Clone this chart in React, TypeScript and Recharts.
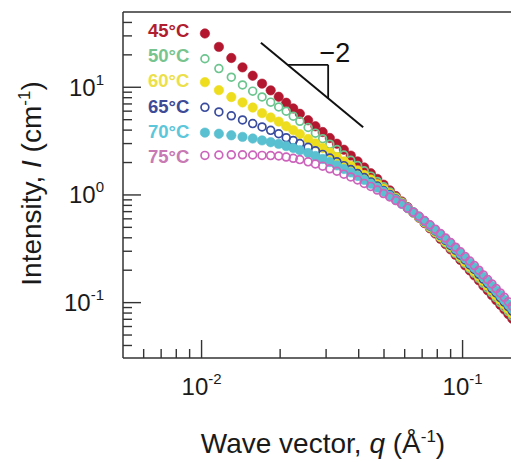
import { Legend, ReferenceDot, ReferenceLine, Scatter, ScatterChart, XAxis, YAxis } from "recharts";

// wave vector q (1/Å), shared by all temperatures
const Q = [
  0.0103, 0.01165, 0.013, 0.01435, 0.0157, 0.01705, 0.0184, 0.01975, 0.0211, 0.02245, 0.0238,
  0.0256, 0.0273, 0.0291, 0.031, 0.033, 0.0351, 0.0373, 0.0396, 0.042, 0.0445, 0.0471, 0.0498,
  0.0526, 0.0555, 0.0585, 0.0616, 0.0648, 0.0681, 0.0715, 0.075, 0.0786, 0.0823, 0.0861, 0.09,
  0.094, 0.0981, 0.1023, 0.1066, 0.111, 0.1155, 0.1201, 0.1248, 0.1296, 0.1345, 0.1395, 0.1446,
  0.1498, 0.1551,
];

// intensity I (1/cm)
const I_45C = [
  31.6, 23.7, 18.7, 15.3, 12.8, 10.8, 9.36, 8.16, 7.18, 6.36, 5.67,
  4.94, 4.34, 3.84, 3.38, 2.99, 2.63, 2.32, 2.05, 1.8, 1.59, 1.41, 1.246,
  1.103, 0.977, 0.869, 0.77, 0.685, 0.614, 0.548, 0.49, 0.438, 0.391, 0.349, 0.312,
  0.278, 0.249, 0.222, 0.199, 0.179, 0.161, 0.144, 0.13, 0.117, 0.1055, 0.0954, 0.0863,
  0.0782, 0.0709,
];
const I_50C = [
  18.4, 14.9, 12.4, 10.5, 9.2, 8.13, 7.27, 6.56, 5.99, 5.39, 4.83,
  4.23, 3.75, 3.33, 2.96, 2.64, 2.35, 2.1, 1.875, 1.674, 1.495, 1.335, 1.192,
  1.066, 0.954, 0.855, 0.764, 0.686, 0.618, 0.554, 0.497, 0.447, 0.401, 0.358, 0.321,
  0.287, 0.257, 0.231, 0.207, 0.187, 0.168, 0.151, 0.136, 0.123, 0.111, 0.1, 0.0908,
  0.0825, 0.0748,
];
const I_60C = [
  11.15, 9.4, 8.11, 7.23, 6.48, 5.75, 5.24, 4.8, 4.34, 4.0, 3.67,
  3.31, 3.01, 2.73, 2.48, 2.25, 2.05, 1.86, 1.69, 1.53, 1.39, 1.26, 1.14,
  1.03, 0.932, 0.843, 0.754, 0.688, 0.622, 0.56, 0.505, 0.455, 0.409, 0.368, 0.331,
  0.296, 0.267, 0.239, 0.215, 0.194, 0.175, 0.158, 0.143, 0.129, 0.116, 0.106, 0.0956,
  0.0868, 0.0788,
];
const I_65C = [
  6.51, 5.9, 5.43, 4.97, 4.6, 4.28, 3.98, 3.7, 3.4, 3.2, 3.0,
  2.77, 2.57, 2.38, 2.2, 2.03, 1.87, 1.72, 1.58, 1.45, 1.32, 1.21, 1.1,
  1.01, 0.916, 0.834, 0.754, 0.689, 0.626, 0.566, 0.512, 0.463, 0.419, 0.378, 0.34,
  0.307, 0.276, 0.249, 0.224, 0.203, 0.183, 0.165, 0.15, 0.135, 0.123, 0.111, 0.101,
  0.0916, 0.0832,
];
const I_70C = [
  3.79, 3.7, 3.58, 3.46, 3.34, 3.21, 3.09, 2.98, 2.84, 2.73, 2.6,
  2.45, 2.3, 2.16, 2.02, 1.88, 1.74, 1.62, 1.5, 1.38, 1.27, 1.17, 1.07,
  0.983, 0.901, 0.827, 0.754, 0.691, 0.63, 0.572, 0.52, 0.472, 0.428, 0.388, 0.351,
  0.317, 0.286, 0.258, 0.233, 0.211, 0.192, 0.173, 0.157, 0.142, 0.129, 0.117, 0.106,
  0.0964, 0.0878,
];
const I_75C = [
  2.33, 2.35, 2.36, 2.36, 2.35, 2.33, 2.32, 2.3, 2.25, 2.19, 2.13,
  2.03, 1.94, 1.85, 1.75, 1.66, 1.56, 1.47, 1.38, 1.28, 1.2, 1.11, 1.03,
  0.958, 0.887, 0.822, 0.754, 0.692, 0.634, 0.578, 0.528, 0.481, 0.438, 0.398, 0.361,
  0.327, 0.296, 0.268, 0.243, 0.221, 0.2, 0.181, 0.164, 0.149, 0.135, 0.123, 0.112,
  0.102, 0.0926,
];

const X_TICKS = [0.006, 0.007, 0.008, 0.009, 0.01, 0.02, 0.03, 0.04, 0.05, 0.06, 0.07, 0.08, 0.09, 0.1];
const Y_TICKS = [
  0.04, 0.05, 0.06, 0.07, 0.08, 0.09, 0.1, 0.2, 0.3, 0.4, 0.5, 0.6, 0.7, 0.8, 0.9,
  1, 2, 3, 4, 5, 6, 7, 8, 9, 10, 20, 30, 40,
];

// the "-2" slope guide (points in data units)
const SLOPE_LINE = [{ x: 0.01688, y: 25.9 }, { x: 0.0416, y: 4.25 }];
const SLOPE_RUN = [{ x: 0.02137, y: 16.16 }, { x: 0.03055, y: 16.16 }];
const SLOPE_RISE = [{ x: 0.03055, y: 16.16 }, { x: 0.03055, y: 7.91 }];

const SERIES = [
  { name: "45°C", values: I_45C, color: "#b3172f", text: "#b01e30", filled: true },
  { name: "50°C", values: I_50C, color: "#6cc58e", text: "#78c48f", filled: false },
  { name: "60°C", values: I_60C, color: "#eddd1e", text: "#ece04a", filled: true },
  { name: "65°C", values: I_65C, color: "#3a4c9e", text: "#3d4c97", filled: false },
  { name: "70°C", values: I_70C, color: "#58c0d0", text: "#5cc6da", filled: true },
  { name: "75°C", values: I_75C, color: "#cc64bc", text: "#c77ab3", filled: false },
];

const FONT = "'Liberation Sans', Arial, Helvetica, sans-serif";
const INK = "#1a1a1a";
const AXIS = "#333";

const exponentOf = (v: number) => Math.round(Math.log10(v));
const isDecade = (v: number) => Math.abs(Math.log10(v) - exponentOf(v)) < 1e-9;

const XTick = ({ x, y, payload }: any) => {
  const v = payload.value;
  const major = isDecade(v);
  return (
    <g>
      <line x1={x} y1={y} x2={x} y2={y - (major ? 18 : 9)} stroke={AXIS} strokeWidth={1.4} />
      {major && (
        <text x={x} y={y + 37} textAnchor="middle" fontFamily={FONT} fontSize={24} fill={INK}>
          10<tspan dy={-11} fontSize={15}>{exponentOf(v)}</tspan>
        </text>
      )}
    </g>
  );
};

const YTick = ({ x, y, payload }: any) => {
  const v = payload.value;
  const major = isDecade(v);
  return (
    <g>
      <line x1={x} y1={y} x2={x + (major ? 18 : 9)} y2={y} stroke={AXIS} strokeWidth={1.4} />
      {major && (
        <text x={x - 19} y={y + 8.5} textAnchor="end" fontFamily={FONT} fontSize={24} fill={INK}>
          10<tspan dy={-11} fontSize={15}>{exponentOf(v)}</tspan>
        </text>
      )}
    </g>
  );
};

const XTitle = ({ viewBox }: any) => {
  const vb = viewBox ?? { x: 123, y: 358, width: 388, height: 104 };
  return (
    <text x={vb.x + vb.width / 2 + 6} y={vb.y + 95} textAnchor="middle" fontFamily={FONT} fontSize={28} fill={INK}>
      {"Wave vector, "}
      <tspan fontStyle="italic">q</tspan>
      {" (Å"}
      <tspan dy={-11} fontSize={17}>-1</tspan>
      <tspan dy={11}>)</tspan>
    </text>
  );
};

const YTitle = ({ viewBox }: any) => {
  const vb = viewBox ?? { x: 0, y: 12, width: 123, height: 346 };
  const cx = vb.x + 41;
  const cy = vb.y + vb.height / 2 - 1.5;
  return (
    <text
      x={cx}
      y={cy}
      transform={`rotate(-90, ${cx}, ${cy})`}
      textAnchor="middle"
      fontFamily={FONT}
      fontSize={28}
      fill={INK}
    >
      {"Intensity, "}
      <tspan fontStyle="italic">I</tspan>
      {" (cm"}
      <tspan dy={-11} fontSize={17}>-1</tspan>
      <tspan dy={11}>)</tspan>
    </text>
  );
};

const TemperatureLegend = () => (
  <div style={{ fontFamily: FONT, fontWeight: 700, fontSize: 18.5 }}>
    {SERIES.map((s) => (
      <div key={s.name} style={{ color: s.text, height: 25.2, lineHeight: "25.2px", whiteSpace: "nowrap" }}>
        {s.name}
      </div>
    ))}
  </div>
);

const markerFor = (color: string, filled: boolean) => (p: any) =>
  filled ? (
    <circle cx={p.cx} cy={p.cy} r={4.7} fill={color} stroke={color} strokeWidth={0.6} />
  ) : (
    <circle cx={p.cx} cy={p.cy} r={3.9} fill="none" stroke={color} strokeWidth={1.7} />
  );

export default function App() {
  return (
    <div style={{ position: "absolute", left: 0, top: 0, width: 511, height: 462, overflow: "hidden", background: "#fff" }}>
      <ScatterChart width={511} height={462} margin={{ top: 12, right: 0, bottom: 0, left: 0 }}>
        <XAxis
          type="number"
          dataKey="q"
          scale="log"
          domain={[0.005, 0.1533]}
          allowDataOverflow
          ticks={X_TICKS}
          interval={0}
          tickSize={0}
          tickMargin={0}
          tickLine={false}
          tick={XTick}
          axisLine={{ stroke: AXIS, strokeWidth: 1.5 }}
          height={104}
          label={<XTitle />}
        />
        <YAxis
          type="number"
          dataKey="I"
          scale="log"
          domain={[0.0306, 50]}
          allowDataOverflow
          ticks={Y_TICKS}
          interval={0}
          tickSize={0}
          tickMargin={0}
          tickLine={false}
          tick={YTick}
          axisLine={{ stroke: AXIS, strokeWidth: 1.5 }}
          width={123}
          label={<YTitle />}
        />
        <ReferenceLine y={50} stroke={AXIS} strokeWidth={1.5} ifOverflow="visible" />
        <ReferenceLine segment={SLOPE_LINE} stroke="#111" strokeWidth={2} ifOverflow="visible" />
        <ReferenceLine segment={SLOPE_RUN} stroke="#111" strokeWidth={1.8} ifOverflow="visible" />
        <ReferenceLine segment={SLOPE_RISE} stroke="#111" strokeWidth={1.8} ifOverflow="visible" />
        <ReferenceDot
          x={0.03241}
          y={21.04}
          r={0}
          fill="none"
          stroke="none"
          ifOverflow="visible"
          label={{ value: "\u22122", position: "center", fontSize: 27, fill: "#111", fontFamily: FONT }}
        />
        {SERIES.map((s) => (
          <Scatter
            key={s.name}
            name={s.name}
            data={Q.map((q, i) => ({ q, I: s.values[i] }))}
            shape={markerFor(s.color, s.filled)}
            isAnimationActive={false}
          />
        ))}
        <Legend
          layout="vertical"
          align="center"
          verticalAlign="middle"
          content={<TemperatureLegend />}
          wrapperStyle={{ top: 18, left: 148, width: "auto", height: "auto" }}
        />
      </ScatterChart>
    </div>
  );
}
